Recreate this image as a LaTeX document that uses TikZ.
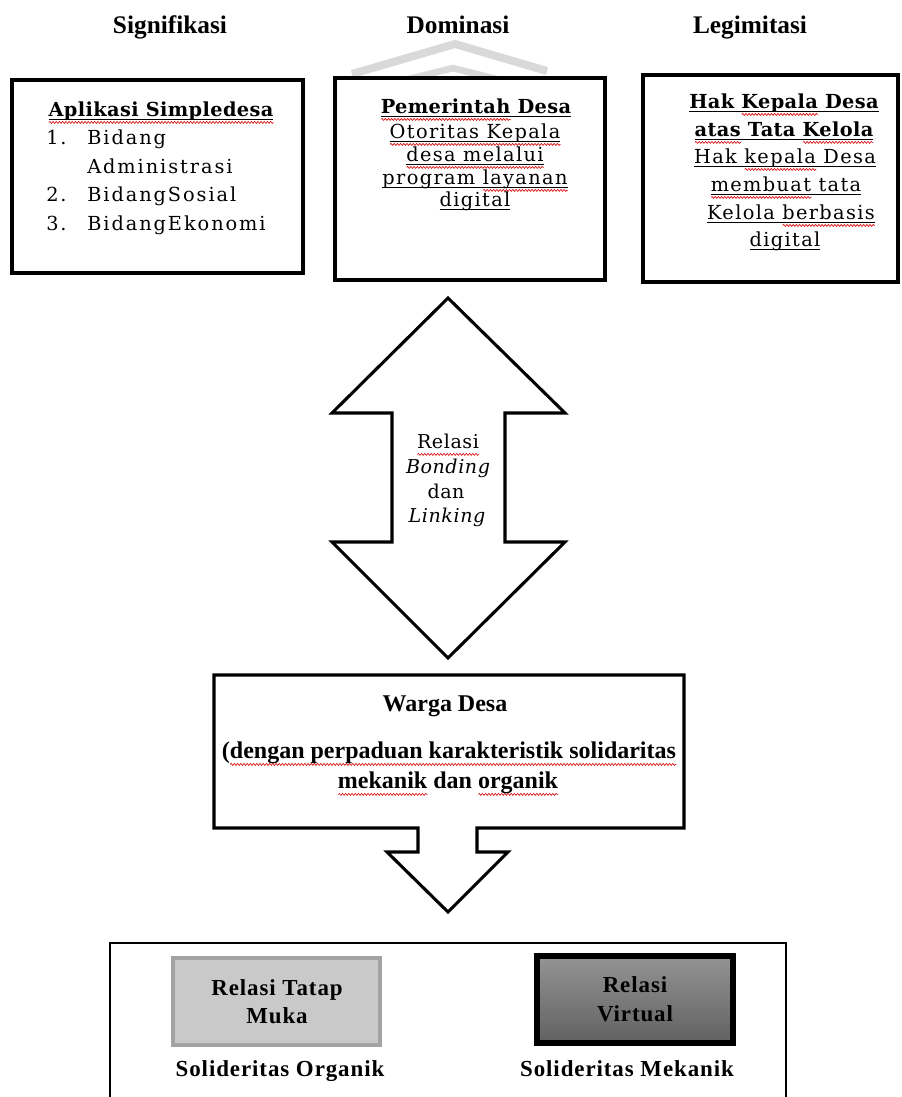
\documentclass[tikz,border=0pt]{standalone}
\usepackage{fontspec}
\usetikzlibrary{decorations.pathmorphing}
\setmainfont{DejaVu Serif}
\newfontfamily\headfont{Liberation Serif}
\newfontfamily\spfont[LetterSpace=4]{Liberation Serif}
\newfontfamily\listfont[LetterSpace=10]{DejaVu Serif}
\newfontfamily\boxfont[LetterSpace=7]{DejaVu Serif}
\newfontfamily\titlefont[LetterSpace=2]{DejaVu Serif}
\newfontfamily\arrfont[LetterSpace=3]{DejaVu Serif}

% underline at a fixed depth, crossing descenders
\newsavebox\ulbox
\newcommand\ul[1]{\sbox\ulbox{#1}\rlap{\smash{\rule[-2.6pt]{\wd\ulbox}{0.7pt}}}\usebox\ulbox}
% red wavy spell-check mark under a word
\newsavebox\sqbox
\newlength\sqlen
\newcommand\sq[1]{\sbox\sqbox{#1}\setlength\sqlen{\wd\sqbox}%
  \rlap{\smash{\tikz[baseline=4.8pt]\draw[red!85!black,line width=0.45pt,decorate,
    decoration={snake,amplitude=0.75pt,segment length=2.4pt}] (0pt,0pt) -- (\sqlen,0pt);}}%
  \usebox\sqbox}

\begin{document}
\begin{tikzpicture}[x=0.75pt,y=-0.75pt,
  frame/.style={draw=black,line width=2.3pt,fill=white},
  head/.style={font=\headfont\bfseries\fontsize{19}{21}\selectfont,inner sep=0pt,anchor=base},
  lst/.style={font=\listfont\fontsize{14.5}{17}\selectfont,inner sep=0pt,anchor=base west},
  tx/.style={font=\boxfont\fontsize{14.5}{17}\selectfont,inner sep=0pt,anchor=base},
  tb/.style={font=\titlefont\bfseries\fontsize{14.5}{17}\selectfont,inner sep=0pt,anchor=base},
  ta/.style={font=\arrfont\fontsize{14.3}{17}\selectfont,inner sep=0pt,anchor=base},
  tai/.style={ta,font=\arrfont\itshape\fontsize{14.3}{17}\selectfont},
  wb/.style={font=\headfont\bfseries\fontsize{18}{21}\selectfont,inner sep=0pt,anchor=base},
  bb/.style={font=\spfont\bfseries\fontsize{17.2}{20}\selectfont,inner sep=0pt,anchor=base},
  arrowline/.style={draw=black,line width=2.3pt,line join=miter,fill=white}]
\useasboundingbox (0,0) rectangle (901,1097);

% column headings
\node[head] (h1) at (170,33) {Signifikasi};
\node[head] (h2) at (458,33) {Dominasi};
\node[head] (h3) at (750,33) {Legimitasi};

% faint chevron mark behind the middle box
\draw[black!15,line width=6pt,line join=miter] (352,74) -- (455,44) -- (547,71);
\draw[black!15,line width=5pt,line join=miter] (405,80) -- (453,68) -- (500,80);

% three top boxes
\path[frame] (12,80) rectangle (303,273);
\path[frame] (335,78) rectangle (605,280);
\path[frame] (643,75) rectangle (898,282);

% box 1
\node[tb] (b1t) at (161,116) {\ul{\sq{Aplikasi Simpledesa}}};
\node[lst] (b1n1) at (46,144) {1.};
\node[lst] (b1a) at (87,144) {Bidang};
\node[lst] (b1b) at (87,173) {Administrasi};
\node[lst] (b1n2) at (46,201) {2.};
\node[lst] (b1c) at (87,201) {BidangSosial};
\node[lst] (b1n3) at (46,230) {3.};
\node[lst] (b1d) at (87,230) {BidangEkonomi};

% box 2
\node[tb] (b2t) at (476,113) {\ul{\sq{Pemerintah} Desa}};
\node[tx] (b2a) at (475,138) {\ul{\sq{Otoritas Kepala}}};
\node[tx] (b2b) at (475,161) {\ul{\sq{desa melalui}}};
\node[tx] (b2c) at (475,184) {\ul{program \sq{layanan}}};
\node[tx] (b2d) at (475,206) {\ul{digital}};

% box 3
\node[tb] (b3t) at (784,108) {\ul{Hak \sq{Kepala} Desa}};
\node[tb] (b3u) at (784,136) {\ul{\sq{atas} Tata \sq{Kelola}}};
\node[tx] (b3a) at (785,163) {\ul{Hak \sq{kepala} Desa}};
\node[tx] (b3b) at (786,191) {\ul{\sq{membuat} tata}};
\node[tx] (b3c) at (791,219) {\ul{Kelola \sq{berbasis}}};
\node[tx] (b3d) at (785,246) {\ul{digital}};

% double-headed block arrow
\path[arrowline] (448,298) -- (565,413) -- (505,413) -- (505,542) -- (565,542)
  -- (448,658) -- (332,542) -- (392,542) -- (392,413) -- (332,413) -- cycle;
\node[ta] (r1) at (448,448) {\sq{Relasi}};
\node[tai] (r2) at (448,473) {Bonding};
\node[ta] (r3) at (446,498) {dan};
\node[tai] (r4) at (447,522) {Linking};

% citizens box with the downward arrow notched into its lower edge
\path[arrowline] (214,675) -- (684,675) -- (684,828) -- (477,828) -- (477,852)
  -- (508,852) -- (448,912) -- (387,852) -- (418,852) -- (418,828) -- (214,828) -- cycle;
\node[wb] (w1) at (445,711) {Warga Desa};
\node[wb] (w2) at (449,758) {(\sq{dengan perpaduan karakteristik solidaritas}};
\node[wb] (w3) at (448,788) {\sq{mekanik} dan \sq{organik}};

% bottom frame, open at the lower edge
\draw[line width=1.6pt] (110,1100) -- (110,943) -- (786,943) -- (786,1100);

% face-to-face relation
\path[draw=black!36,line width=3pt,fill=black!21] (173,958) rectangle (380,1045);
\node[bb] (f1) at (277,995) {Relasi Tatap};
\node[bb] (f2) at (277,1023) {Muka};
\node[bb] (f3) at (280,1076) {Solideritas Organik};

% virtual relation
\path[draw=black,line width=3.8pt,top color=black!42,bottom color=black!62] (537,956) rectangle (733,1043);
\node[bb] (v1) at (635,992) {Relasi};
\node[bb] (v2) at (635,1021) {Virtual};
\node[bb] (v3) at (627,1076) {Solideritas Mekanik};
\end{tikzpicture}
\end{document}
